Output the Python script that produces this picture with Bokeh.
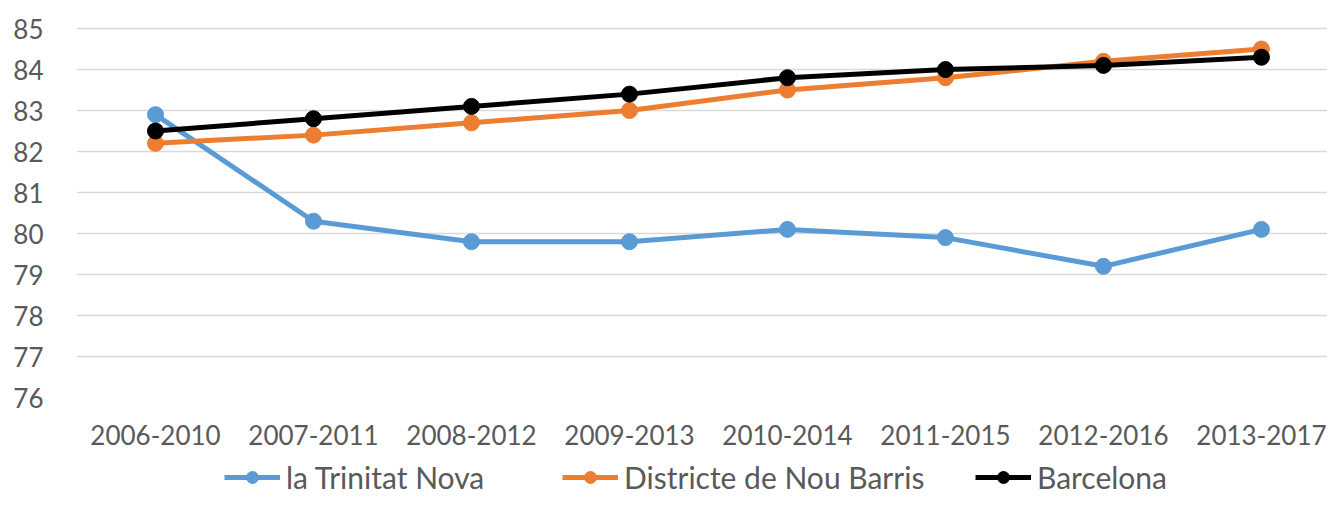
from bokeh.plotting import figure
from bokeh.models import Range1d, FixedTicker, Legend, LegendItem
from bokeh.layouts import column
from bokeh.embed import file_html
from bokeh.resources import INLINE

periods = ["2006-2010", "2007-2011", "2008-2012", "2009-2013",
           "2010-2014", "2011-2015", "2012-2016", "2013-2017"]
trinitat = [82.9, 80.3, 79.8, 79.8, 80.1, 79.9, 79.2, 80.1]
nou_barris = [82.2, 82.4, 82.7, 83.0, 83.5, 83.8, 84.2, 84.5]
barcelona = [82.5, 82.8, 83.1, 83.4, 83.8, 84.0, 84.1, 84.3]
y_ticks = [76, 77, 78, 79, 80, 81, 82, 83, 84, 85]
series_names = ["la Trinitat Nova", "Districte de Nou Barris", "Barcelona"]
colors = ["#5B9BD5", "#ED7D31", "#000000"]

FONT = "Lato"
TXT = "#595959"

W = 1327
p = figure(width=W, height=455, output_backend="svg", toolbar_location=None,
           x_range=Range1d(-0.5, 7.418), y_range=Range1d(76, 85.44),
           min_border_left=76, min_border_right=0, min_border_top=10,
           min_border_bottom=58)
p.outline_line_color = None
p.background_fill_color = "white"
p.border_fill_color = "white"

xs = list(range(len(periods)))

p.xaxis.ticker = FixedTicker(ticks=xs)
p.xaxis.major_label_overrides = {i: lab for i, lab in enumerate(periods)}
p.yaxis.ticker = FixedTicker(ticks=y_ticks)
for ax in (p.xaxis, p.yaxis):
    ax.axis_line_color = None
    ax.major_tick_line_color = None
    ax.minor_tick_line_color = None
    ax.major_label_text_font = FONT
    ax.major_label_text_font_size = "26px"
    ax.major_label_text_color = TXT
p.xaxis.major_label_standoff = 21
p.yaxis.major_label_standoff = 27

p.xgrid.grid_line_color = None
p.ygrid.grid_line_color = "#D9D9D9"
p.ygrid.grid_line_width = 1.5

for name, vals, col in zip(series_names, [trinitat, nou_barris, barcelona], colors):
    p.line(xs, vals, line_color=col, line_width=5)
    p.scatter(xs, vals, size=16, fill_color=col, line_color=col)

# legend strip below the chart (its frame is aligned with the chart frame, left = 76)
lg = figure(width=W, height=40, output_backend="svg", toolbar_location=None,
            x_axis_type=None, y_axis_type=None,
            x_range=Range1d(0, 1), y_range=Range1d(0, 1),
            min_border_left=76, min_border_right=0, min_border_top=0,
            min_border_bottom=0)
lg.outline_line_color = None
lg.grid.grid_line_color = None
leg_x = [148, 486, 899]
for name, col, lx in zip(series_names, colors, leg_x):
    # renderers kept outside the visible range: they only feed the legend
    ln = lg.line([5, 6], [5, 5], line_color=col, line_width=5)
    sc = lg.scatter([5, 6], [5, 5], size=14, fill_color=col, line_color=col)
    leg = Legend(items=[LegendItem(label=name, renderers=[ln, sc])],
                 location=(lx, 0), orientation="horizontal",
                 glyph_width=56, glyph_height=30, label_standoff=6,
                 label_text_font=FONT, label_text_font_size="30px",
                 label_text_color=TXT, padding=0, margin=0, spacing=0,
                 border_line_color=None, background_fill_alpha=0)
    lg.add_layout(leg, "center")

layout = column(p, lg, spacing=0)
open("out.html", "w").write(file_html(layout, INLINE))
